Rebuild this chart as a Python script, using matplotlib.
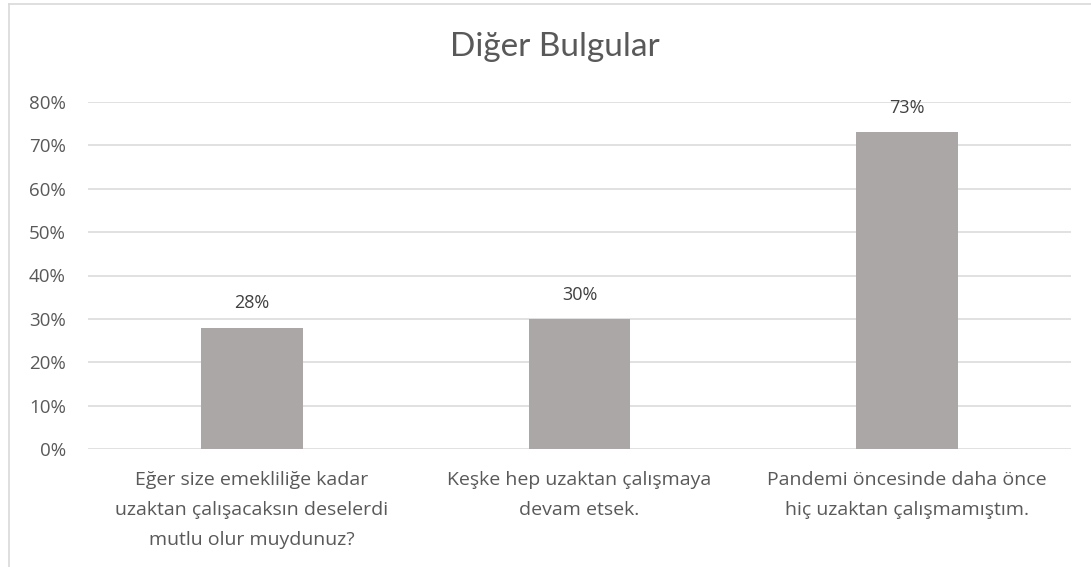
import matplotlib
matplotlib.use("Agg")
import matplotlib.pyplot as plt
from matplotlib.lines import Line2D
from matplotlib.ticker import FuncFormatter, MultipleLocator

plt.rcParams['font.family'] = ['Open Sans', 'DejaVu Sans']

title = "Diğer Bulgular"
categories = [
    "Eğer size emekliliğe kadar\nuzaktan çalışacaksın deselerdi\nmutlu olur muydunuz?",
    "Keşke hep uzaktan çalışmaya\ndevam etsek.",
    "Pandemi öncesinde daha önce\nhiç uzaktan çalışmamıştım.",
]
values = [0.28, 0.30, 0.73]
value_labels = ["28%", "30%", "73%"]

W, H = 1091, 567
fig = plt.figure(figsize=(W / 100, H / 100), dpi=100)
fig.patch.set_facecolor("white")

ax = fig.add_axes([88 / W, 1 - 449 / H, (1071 - 88) / W, (449 - 102) / H])
text_color = "#595959"
grid_color = "#D9D9D9"
bar_color = "#ABA7A6"

x = range(len(categories))
ax.bar(x, values, width=0.31, color=bar_color, zorder=3)
ax.set_xlim(-0.5, len(categories) - 0.5)
ax.set_ylim(0, 0.8)
ax.yaxis.set_major_locator(MultipleLocator(0.1))
ax.yaxis.set_major_formatter(FuncFormatter(lambda v, _: f"{v * 100:.0f}%"))
ax.grid(axis="y", color=grid_color, linewidth=1.1, zorder=0)
ax.set_axisbelow(True)
for s in ax.spines.values():
    s.set_visible(False)
ax.tick_params(axis="both", length=0, colors=text_color, labelsize=13.5)
ax.tick_params(axis="y", pad=16)
ax.tick_params(axis="x", pad=15.5)
ax.set_xticks(list(x))
ax.set_xticklabels(categories, fontsize=14, color=text_color, linespacing=1.88)

for xi, v, lab in zip(x, values, value_labels):
    ax.annotate(lab, (xi, v), xytext=(0, 11), textcoords="offset points",
                ha="center", va="bottom", fontsize=13, color="#404040")

fig.text(555 / W, 1 - 47 / H, title, ha="center", va="center",
         fontsize=24, color=text_color, family=["Lato", "DejaVu Sans"])

# outer frame on the top and left edges
fig.add_artist(Line2D([8.5 / W, 1], [1 - 3.5 / H, 1 - 3.5 / H], color=grid_color,
                      linewidth=1.2, transform=fig.transFigure))
fig.add_artist(Line2D([8.5 / W, 8.5 / W], [0, 1 - 3.5 / H], color=grid_color,
                      linewidth=1.2, transform=fig.transFigure))

fig.savefig("out.png", dpi=100, facecolor="white")
